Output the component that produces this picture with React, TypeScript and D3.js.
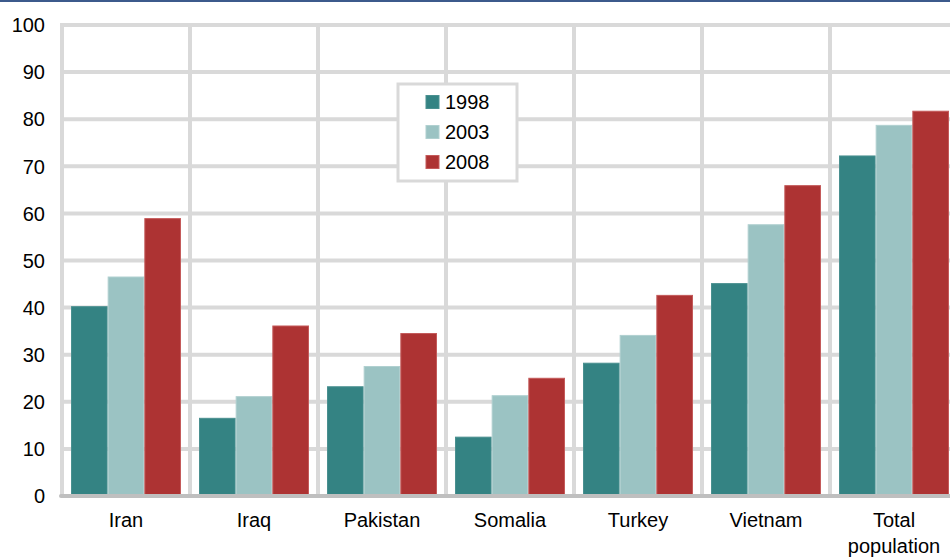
import React from "react";
import * as d3 from "d3";

const categories = ["Iran", "Iraq", "Pakistan", "Somalia", "Turkey", "Vietnam", "Total population"];
const seriesNames = ["1998", "2003", "2008"];
const values1998 = [40.3, 16.6, 23.3, 12.6, 28.3, 45.2, 72.3];
const values2003 = [46.6, 21.2, 27.6, 21.4, 34.2, 57.7, 78.8];
const values2008 = [59.0, 36.2, 34.6, 25.1, 42.7, 66.0, 81.8];
const yTicks = [0, 10, 20, 30, 40, 50, 60, 70, 80, 90, 100];

const fills = ["#348383", "#9bc3c3", "#ad3333"];
const edges = ["#4a9090", "#b0d0d0", "#c45a5a"];

const W = 950;
const H = 560;
const left = 62;
const catWidth = 128;
const y0 = 496;
const y100 = 25;

export default function App() {
  const series = [values1998, values2003, values2008];
  const x = d3.scaleBand<string>().domain(categories).range([left, left + catWidth * categories.length]).padding(0);
  const x1 = d3.scaleBand<string>().domain(seriesNames).range([9, catWidth - 9]).padding(0);
  const y = d3.scaleLinear().domain([0, 100]).range([y0, y100]);
  const font = "'Liberation Sans', Arial, sans-serif";
  const fs = 20;

  return (
    <svg width={W} height={H} style={{ position: "absolute", left: 0, top: 0, background: "#fff" }}>
      <rect x={0} y={0} width={W} height={2} fill="#3c5a8c" />
      {/* horizontal gridlines */}
      {yTicks.filter((t) => t > 0).map((t) => (
        <line key={"h" + t} x1={left - 2} x2={W} y1={y(t)} y2={y(t)} stroke="#d9d9d9" strokeWidth={4} />
      ))}
      {/* vertical separators */}
      {categories.map((c) => (
        <line key={"v" + c} x1={x(c)!} x2={x(c)!} y1={y(100) - 2} y2={y0} stroke="#d9d9d9" strokeWidth={4} />
      ))}
      {/* bars */}
      {categories.map((c, i) => (
        <g key={"g" + c} transform={`translate(${x(c)},0)`}>
          {series.map((vals, s) => (
            <rect
              key={seriesNames[s]}
              x={x1(seriesNames[s])! + 0.5}
              y={y(vals[i]) + 0.5}
              width={x1.bandwidth() - 1}
              height={y0 - 2 - y(vals[i])}
              fill={fills[s]}
              stroke={edges[s]}
              strokeWidth={1}
            />
          ))}
        </g>
      ))}
      {/* baseline */}
      <line x1={left - 1} x2={W} y1={y0} y2={y0} stroke="#bfbfbf" strokeWidth={4} strokeLinecap="round" />
      {/* y labels */}
      {yTicks.map((t) => (
        <text key={"yl" + t} x={45} y={y(t)} dy="0.36em" textAnchor="end" fontFamily={font} fontSize={fs} fill="#000">
          {t}
        </text>
      ))}
      {/* x labels */}
      {categories.map((c) => {
        const cx = x(c)! + catWidth / 2;
        const parts = c === "Total population" ? ["Total", "population"] : [c];
        return (
          <text key={"xl" + c} textAnchor="middle" fontFamily={font} fontSize={fs} fill="#000">
            {parts.map((p, k) => (
              <tspan key={k} x={cx} y={527 + k * 26}>
                {p}
              </tspan>
            ))}
          </text>
        );
      })}
      {/* legend */}
      <g>
        <rect x={398} y={84} width={119} height={97} fill="#fff" stroke="#d9d9d9" strokeWidth={3} />
        {seriesNames.map((n, s) => (
          <g key={"lg" + n} transform={`translate(426,${102 + s * 30})`}>
            <rect x={0} y={-6.5} width={13} height={13} fill={fills[s]} stroke={edges[s]} strokeWidth={1} />
            <text x={19} y={0} dy="0.36em" fontFamily={font} fontSize={fs} fill="#000">
              {n}
            </text>
          </g>
        ))}
      </g>
    </svg>
  );
}
